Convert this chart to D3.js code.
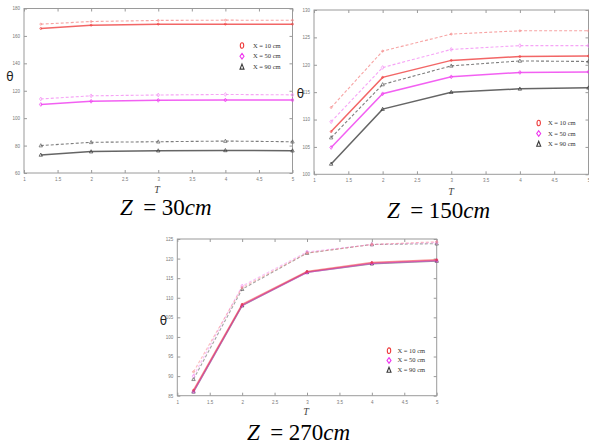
<!DOCTYPE html>
<html><head><meta charset="utf-8">
<script src="https://cdn.jsdelivr.net/npm/d3@7"></script>
<style>html,body{margin:0;padding:0;background:#fff;}svg{display:block;}</style>
</head><body>
<script>
// ---- data ----
const T = [1.25, 2, 3, 4, 5];
const xTickVals = [1, 1.5, 2, 2.5, 3, 3.5, 4, 4.5, 5];
const xTickLabels = ["1", "1.5", "2", "2.5", "3", "3.5", "4", "4.5", "5"];
const legendLabels = ["X = 10 cm", "X = 50 cm", "X = 90 cm"];
const captionValues = ["30", "150", "270"];

const yTicksZ30 = [60, 80, 100, 120, 140, 160, 180];
const yTicksZ150 = [100, 105, 110, 115, 120, 125, 130];
const yTicksZ270 = [85, 90, 95, 100, 105, 110, 115, 120, 125];

const z30_x10_solid = [165.4, 167.8, 168.6, 168.6, 168.6];
const z30_x10_dash  = [168.6, 170.5, 171.3, 171.5, 171.4];
const z30_x50_solid = [110.0, 112.3, 113.0, 113.2, 113.2];
const z30_x50_dash  = [114.0, 116.3, 116.9, 117.3, 117.0];
const z30_x90_solid = [73.2, 75.6, 76.3, 76.5, 76.3];
const z30_x90_dash  = [80.0, 82.4, 82.8, 83.3, 82.8];

const z150_x10_solid = [107.8, 117.7, 120.8, 121.5, 121.6];
const z150_x10_dash  = [112.2, 122.5, 125.6, 126.2, 126.2];
const z150_x50_solid = [104.9, 114.7, 117.8, 118.6, 118.7];
const z150_x50_dash  = [109.6, 119.5, 122.8, 123.5, 123.5];
const z150_x90_solid = [101.9, 111.9, 115.0, 115.6, 115.8];
const z150_x90_dash  = [106.7, 116.4, 119.8, 120.7, 120.6];

const z270_x10_solid = [86.4, 108.3, 116.7, 119.0, 119.7];
const z270_x10_dash  = [91.1, 112.6, 121.4, 123.6, 124.3];
const z270_x50_solid = [86.1, 108.1, 116.5, 118.8, 119.5];
const z270_x50_dash  = [90.0, 113.0, 121.7, 123.6, 124.1];
const z270_x90_solid = [86.0, 108.0, 116.5, 118.7, 119.4];
const z270_x90_dash  = [89.2, 112.2, 121.4, 123.6, 123.8];

// ---- styling ----
const seriesStyle = [
  {solid: "#ee3b3b", dash: "#f58a8a", marker: "circle"},
  {solid: "#ee33ee", dash: "#f38af3", marker: "diamond"},
  {solid: "#3a3a3a", dash: "#5a5a5a", marker: "triangle"}
];

const panels = [
  {box: {l: 24, r: 292.5, t: 8.5, b: 173}, yDomain: [60, 180], yTicks: yTicksZ30,
   solid: [z30_x10_solid, z30_x50_solid, z30_x90_solid],
   dash: [z30_x10_dash, z30_x50_dash, z30_x90_dash],
   opacity: 0.78, order: [2, 1, 0],
   legend: {x: 242, y: 45.5, text: 253, gap: 10.7},
   theta: [10, 77], tLabel: [157, 193], caption: {x: 120, y: 215, v: captionValues[0]}},
  {box: {l: 314, r: 588.5, t: 10, b: 174.3}, yDomain: [100, 130], yTicks: yTicksZ150,
   solid: [z150_x10_solid, z150_x50_solid, z150_x90_solid],
   dash: [z150_x10_dash, z150_x50_dash, z150_x90_dash],
   opacity: 0.78, order: [2, 1, 0],
   legend: {x: 538.7, y: 123, text: 548, gap: 10.5},
   theta: [300.5, 94], tLabel: [451, 195], caption: {x: 387, y: 218, v: captionValues[1]}},
  {box: {l: 177.3, r: 436.7, t: 239, b: 395.7}, yDomain: [85, 125], yTicks: yTicksZ270,
   solid: [z270_x10_solid, z270_x50_solid, z270_x90_solid],
   dash: [z270_x10_dash, z270_x50_dash, z270_x90_dash],
   opacity: 0.55, order: [2, 1, 0],
   legend: {x: 389, y: 350.7, text: 397.5, gap: 9.7},
   theta: [163.5, 321], tLabel: [306, 415], caption: {x: 247, y: 440, v: captionValues[2]}}
];

const svg = d3.select("body").append("svg").attr("width", 589).attr("height", 447);

function markerPath(type, s) {
  if (type === "circle") return d3.symbol(d3.symbolCircle, s * s * 0.8)();
  if (type === "diamond") return `M0,${-s} L${s*0.7},0 L0,${s} L${-s*0.7},0 Z`;
  return `M0,${-s} L${s*0.9},${s*0.7} L${-s*0.9},${s*0.7} Z`;
}

panels.forEach(p => {
  const g = svg.append("g");
  const x = d3.scaleLinear().domain([1, 5]).range([p.box.l, p.box.r]);
  const y = d3.scaleLinear().domain(p.yDomain).range([p.box.b, p.box.t]);
  const axisColor = "#9a9a9a";

  g.append("rect").attr("x", p.box.l).attr("y", p.box.t)
    .attr("width", p.box.r - p.box.l).attr("height", p.box.b - p.box.t)
    .attr("fill", "none").attr("stroke", axisColor).attr("stroke-width", 1);

  const fmt = (d) => xTickLabels[xTickVals.indexOf(d)];
  const xb = g.append("g").attr("transform", `translate(0,${p.box.b})`)
    .call(d3.axisBottom(x).tickValues(xTickVals).tickFormat(fmt).tickSizeInner(-3).tickSizeOuter(0).tickPadding(5));
  const xt = g.append("g").attr("transform", `translate(0,${p.box.t})`)
    .call(d3.axisTop(x).tickValues(xTickVals).tickFormat("").tickSizeInner(-3).tickSizeOuter(0));
  const yl = g.append("g").attr("transform", `translate(${p.box.l},0)`)
    .call(d3.axisLeft(y).tickValues(p.yTicks).tickFormat(d3.format("d")).tickSizeInner(-3).tickSizeOuter(0).tickPadding(4));
  const yr = g.append("g").attr("transform", `translate(${p.box.r},0)`)
    .call(d3.axisRight(y).tickValues(p.yTicks).tickFormat("").tickSizeInner(-3).tickSizeOuter(0));
  [xb, xt, yl, yr].forEach(a => {
    a.select(".domain").remove();
    a.selectAll("line").attr("stroke", axisColor);
    a.selectAll("text").attr("fill", "#777").style("font-family", "Liberation Sans, sans-serif").style("font-size", "4.5px");
  });

  const line = d3.line().x((d, i) => x(T[i])).y(d => y(d));

  p.order.forEach(k => {
    const st = seriesStyle[k];
    [[p.dash[k], st.dash, "3,2", 1.1], [p.solid[k], st.solid, null, 1.5]].forEach(([vals, col, da, w]) => {
      g.append("path").datum(vals).attr("d", line)
        .attr("fill", "none").attr("stroke", col).attr("stroke-width", w)
        .attr("stroke-opacity", p.opacity)
        .attr("stroke-dasharray", da);
      g.selectAll(null).data(vals).enter().append("path")
        .attr("d", markerPath(st.marker, 1.9))
        .attr("transform", (d, i) => `translate(${x(T[i])},${y(d)})`)
        .attr("fill", "none").attr("stroke", col).attr("stroke-width", 0.8).attr("stroke-opacity", 0.85);
    });
  });

  legendLabels.forEach((lab, k) => {
    const st = seriesStyle[k];
    const ly = p.legend.y + k * p.legend.gap;
    const shape = k === 0 ? "M0,-2.8 A1.7,2.8 0 1,1 0,2.8 A1.7,2.8 0 1,1 0,-2.8 Z"
                 : k === 1 ? "M0,-2.8 L2,0 L0,2.8 L-2,0 Z"
                 : "M0,-2.8 L2,2.2 L-2,2.2 Z";
    g.append("path").attr("d", shape).attr("transform", `translate(${p.legend.x},${ly})`)
      .attr("fill", "none").attr("stroke", st.solid).attr("stroke-width", 1.1);
    g.append("text").attr("x", p.legend.text).attr("y", ly + 2)
      .style("font-family", "Liberation Serif, serif").style("font-size", "6.5px")
      .attr("fill", "#333").text(lab);
  });

  g.append("text").attr("x", p.theta[0]).attr("y", p.theta[1]).attr("text-anchor", "middle")
    .attr("dominant-baseline", "middle")
    .style("font-family", "DejaVu Sans, sans-serif").style("font-size", "12px").attr("fill", "#222").text("θ");
  g.append("text").attr("x", p.tLabel[0]).attr("y", p.tLabel[1]).attr("text-anchor", "middle")
    .style("font-family", "Liberation Serif, serif").style("font-style", "italic")
    .style("font-size", "10px").attr("fill", "#444").text("T");

  const c = svg.append("text").attr("y", p.caption.y)
    .style("font-family", "Liberation Serif, serif").style("font-size", "23px").attr("fill", "#000");
  c.append("tspan").attr("x", p.caption.x).style("font-style", "italic").text("Z");
  c.append("tspan").attr("x", p.caption.x + 23.3).text("=");
  c.append("tspan").attr("x", p.caption.x + 41.7).text(p.caption.v);
  c.append("tspan").style("font-style", "italic").text("cm");
});
</script>
</body></html>
